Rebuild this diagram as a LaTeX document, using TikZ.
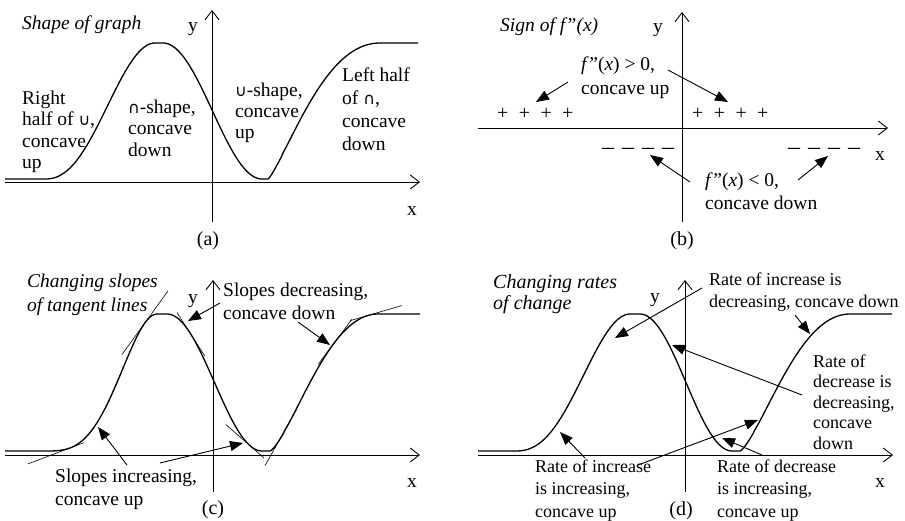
\documentclass[tikz,border=0pt]{standalone}
\usepackage{fontspec}
\setmainfont{Liberation Serif}
\newfontfamily\symf{DejaVu Sans}
\usetikzlibrary{arrows.meta}
\newcommand{\capsym}{{\symf\fontsize{16}{16}\selectfont ∩}}
\newcommand{\cupsym}{{\symf\fontsize{16}{16}\selectfont ∪}}
\newcommand{\ml}[2]{\fontsize{19.5}{#1}\selectfont\begin{tabular}[t]{@{}l@{}}#2\end{tabular}}
\newcommand{\mls}[3]{\fontsize{#1}{#2}\selectfont\begin{tabular}[t]{@{}l@{}}#3\end{tabular}}
\newcommand{\fpp}{\textit{f}\kern0.5pt”(\textit{x})}
\newcommand{\tanline}[8]{%
  \pgfmathsetmacro\tT{(#6-(#1))/(#2)}%
  \pgfmathsetmacro\tU{pow(\tT,#5)}%
  \pgfmathsetmacro\tY{#4-(#3)*(1-cos(180*\tU))/2}%
  \pgfmathsetmacro\tS{-(#3)*(pi/2)*sin(180*\tU)*(#5)*pow(\tT,(#5)-1)/(#2)}%
  \draw[tang] ({#6-#7},{\tY-\tS*#7}) -- ({#6+#8},{\tY+\tS*#8});%
}
\tikzset{
  txt/.style={inner sep=0pt, anchor=base west, font=\fontsize{19.5}{21.5}\selectfont},
  ttl/.style={txt, font=\fontsize{19.5}{24}\selectfont\itshape},
  lblcap/.style={inner sep=0pt, anchor=base, font=\fontsize{20}{22}\selectfont},
  axln/.style={line width=0.9pt, -{Straight Barb[length=9pt,width=14pt]}},
  crv/.style={line width=1.3pt, line join=round},
  tang/.style={line width=0.6pt},
  arr/.style={line width=0.9pt, -{Triangle[length=13pt,width=10pt]}},
}
\begin{document}
\begin{tikzpicture}[x=1pt,y=-1pt]
\useasboundingbox (0,0) rectangle (905,520);
% ================= (a)
\draw[crv] (5,179) -- (45,179)
  -- plot[domain=45.2:155,samples=60] (\x,{179-136*(1-cos(180*pow((\x-45)/110,1.143)))/2})
  -- (163,43)
  -- plot[domain=163:262,samples=60] (\x,{43+136*(1-cos(((\x-163)/99)*180))/2})
  -- (268,179)
  -- plot[domain=268.2:380,samples=60] (\x,{179-136*(1-cos(180*pow((\x-268)/112,0.625)))/2})
  -- (418,43);
\draw[axln] (5,182) -- (420,182);
\draw[axln] (212,222) -- (212,10);
\node[ttl] (at) at (22,29) {Shape of graph};
\node[txt] (ay) at (188,31) {y};
\node[txt] (ax) at (407,215) {x};
\node[lblcap] (ac) at (208,245) {(a)};
\node[txt] (a1) at (22,104) {\ml{21.5}{Right\\half of \cupsym,\\concave\\up}};
\node[txt] (a2) at (128,113) {\ml{21.5}{\capsym-shape,\\concave\\down}};
\node[txt] (a3) at (235,96) {\ml{21}{\cupsym-shape,\\concave\\up}};
\node[txt] (a4) at (342,81) {\ml{23}{Left half\\of \capsym,\\concave\\down}};
% ================= (b)
\draw[axln] (478,128) -- (888,128);
\draw[axln] (682,222) -- (682,12);
\node[ttl] (bt) at (500,31) {Sign of \textit{f}\kern0.5pt”(\textit{x})};
\node[txt] (by) at (653,32) {y};
\node[txt] (bx) at (875,160) {x};
\node[lblcap] (bc) at (682,245) {(b)};
\node[txt] (b1) at (581,70) {\ml{24}{\fpp{} > 0,\\concave up}};
\node[txt] (b2) at (705,186) {\ml{23}{\fpp{} < 0,\\concave down}};
\node[txt, font=\fontsize{20}{22}\selectfont] (bp1) at (497,119) {+\kern10.4pt+\kern10.4pt+\kern10.4pt+};
\node[txt, font=\fontsize{20}{22}\selectfont] (bp2) at (692,119) {+\kern10.4pt+\kern10.4pt+\kern10.4pt+};
\node[txt, font=\fontsize{24}{24}\selectfont] (bm1) at (602,154) {–\kern8pt–\kern8pt–\kern8pt–};
\node[txt, font=\fontsize{24}{24}\selectfont] (bm2) at (788,154) {–\kern8pt–\kern8pt–\kern8pt–};
\coordinate (b1s) at (568,82);  \coordinate (b1e) at (536,102);
\coordinate (b2s) at (668,70);  \coordinate (b2e) at (728,102);
\coordinate (b3s) at (690,182); \coordinate (b3e) at (650,155);
\coordinate (b4s) at (798,180); \coordinate (b4e) at (828,156);
\draw[arr] (b1s) -- (b1e);
\draw[arr] (b2s) -- (b2e);
\draw[arr] (b3s) -- (b3e);
\draw[arr] (b4s) -- (b4e);
% ================= (c)
\draw[crv] (5,451) -- (45,451)
  -- plot[domain=45.2:157,samples=60] (\x,{451-137*(1-cos(180*pow((\x-45)/112,1.568)))/2})
  -- (167,314)
  -- plot[domain=167:262,samples=60] (\x,{314+137*(1-cos(((\x-167)/95)*180))/2})
  -- (270,451)
  -- plot[domain=270.2:378,samples=60] (\x,{451-137*(1-cos(180*pow((\x-270)/108,0.697)))/2})
  -- (420,314);
\tanline{45}{112}{137}{451}{1.568}{70}{42}{14}
\tanline{45}{112}{137}{451}{1.568}{89}{5}{5}
\tanline{45}{112}{137}{451}{1.568}{113}{7}{8}
\tanline{45}{112}{137}{451}{1.568}{145}{23}{23}
\tanline{167}{95}{-137}{314}{1}{190}{13}{15}
\tanline{167}{95}{-137}{314}{1}{250}{24}{14}
\tanline{270}{108}{137}{451}{0.697}{284}{19}{13}
\tanline{270}{108}{137}{451}{0.697}{334}{16}{18}
\tanline{270}{108}{137}{451}{0.697}{368}{18}{34}
\draw[axln] (5,455) -- (420,455);
\draw[axln] (213,492) -- (213,280);
\node[ttl] (ct) at (27,287) {\ml{24}{Changing slopes\\of tangent lines}};
\node[txt] (cy) at (188,303) {y};
\node[txt] (cx) at (407,487) {x};
\node[lblcap] (cc) at (213,514) {(c)};
\node[txt] (c1) at (223,296) {\ml{23}{Slopes decreasing,\\concave down}};
\node[txt] (c2) at (55,482) {\ml{23}{Slopes increasing,\\concave up}};
\coordinate (c1s) at (220,303); \coordinate (c1e) at (188,321);
\coordinate (c2s) at (298,322); \coordinate (c2e) at (330,345);
\coordinate (c3s) at (127,465); \coordinate (c3e) at (98,427);
\coordinate (c4s) at (160,463); \coordinate (c4e) at (243,443);
\draw[arr] (c1s) -- (c1e);
\draw[arr] (c2s) -- (c2e);
\draw[arr] (c3s) -- (c3e);
\draw[arr] (c4s) -- (c4e);
% ================= (d)
\draw[crv] (478,451) -- (515,451)
  -- plot[domain=515.2:630,samples=60] (\x,{451-137*(1-cos(180*pow((\x-515)/115,1.214)))/2})
  -- (640,314)
  -- plot[domain=640:732,samples=60] (\x,{314+137*(1-cos(((\x-640)/92)*180))/2})
  -- (740,451)
  -- plot[domain=740.2:850,samples=60] (\x,{451-137*(1-cos(180*pow((\x-740)/110,0.685)))/2})
  -- (892,314);
\draw[axln] (478,455) -- (893,455);
\draw[axln] (685,492) -- (685,280);
\node[ttl] (dt) at (493,288) {\mls{20}{21.5}{Changing rates\\of change}};
\node[txt] (dy) at (650,302) {y};
\node[txt] (dx) at (875,487) {x};
\node[lblcap] (dc) at (681,515) {(d)};
\node[txt] (d1) at (709,285) {\mls{18}{22}{Rate of increase is\\decreasing, concave down}};
\node[txt] (d2) at (813,367) {\mls{18}{20.5}{Rate of\\decrease is\\decreasing,\\concave\\down}};
\node[txt] (d3) at (535,472) {\mls{18}{22.5}{Rate of increase\\is increasing,\\concave up}};
\node[txt] (d4) at (717,472) {\mls{18}{22.5}{Rate of decrease\\is increasing,\\concave up}};
\coordinate (d1s) at (702,288); \coordinate (d1e) at (615,338);
\coordinate (d2s) at (795,315); \coordinate (d2e) at (810,334);
\coordinate (d3s) at (802,395); \coordinate (d3e) at (672,345);
\coordinate (d4s) at (585,458); \coordinate (d4e) at (560,432);
\coordinate (d5s) at (638,465); \coordinate (d5e) at (758,420);
\coordinate (d6s) at (762,455); \coordinate (d6e) at (722,438);
\draw[arr] (d1s) -- (d1e);
\draw[arr] (d2s) -- (d2e);
\draw[arr] (d3s) -- (d3e);
\draw[arr] (d4s) -- (d4e);
\draw[arr] (d5s) -- (d5e);
\draw[arr] (d6s) -- (d6e);
\end{tikzpicture}
\end{document}
